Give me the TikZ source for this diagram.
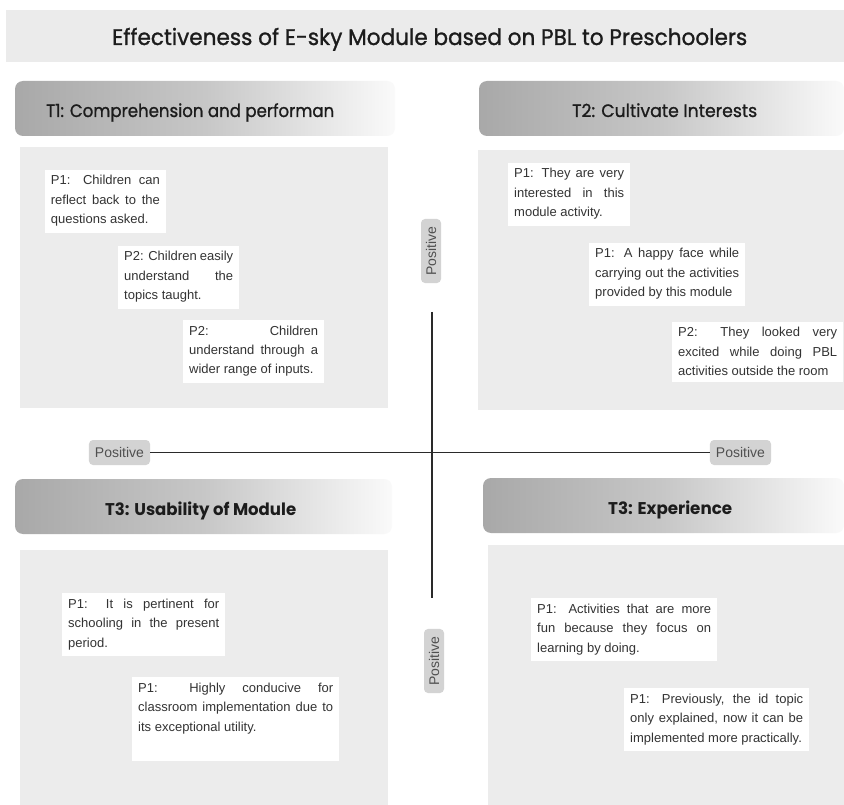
\documentclass[tikz,border=0pt]{standalone}
\usepackage{fontspec}
\usepackage{graphicx}
\setmainfont{Liberation Sans}
\newfontfamily\headfont{Poppins}
\newfontfamily\headmed[FakeBold=1.1]{Poppins}

\definecolor{panelgray}{HTML}{ECECEC}
\definecolor{bandgray}{HTML}{EBEBEB}
\definecolor{bodytext}{HTML}{333333}
\definecolor{chipgray}{HTML}{D3D3D3}
\definecolor{chiptext}{HTML}{505050}
\definecolor{inkdark}{HTML}{1C1C1C}
\definecolor{axisink}{HTML}{2A2A2A}

% header bar: darker grey on the left, fading out to the right
\pgfdeclarehorizontalshading{hdrfade}{100bp}{%
  color(0bp)=(black!34); color(25bp)=(black!34);
  color(50bp)=(black!22); color(75bp)=(black!2); color(100bp)=(black!2)}

% a block of body text: full-width justified lines, then a ragged last line
\newcommand\para[2]{\vtop{\hsize=#1\relax\fontsize{13}{19.5}\selectfont #2}}
\newcommand\fullln[1]{\hbox to\hsize{#1}}
\newcommand\lastln[1]{\hbox{#1}}

\tikzset{
  panel/.style={fill=panelgray, draw=none, inner sep=0pt},
  hdrbar/.style={shading=hdrfade, rounded corners=8pt, draw=none, inner sep=0pt},
  hdrtext/.style={anchor=base west, inner sep=0pt, text=inkdark},
  ptxt/.style={fill=white, text=bodytext, inner xsep=6pt, inner ysep=6pt, anchor=base west},
  chip/.style={fill=chipgray, text=chiptext, rounded corners=4pt,
    font=\fontsize{14}{14}\selectfont, inner xsep=6pt, inner ysep=0pt, minimum height=25pt},
  vchip/.style={chip, rotate=90, minimum height=20pt, inner xsep=7.5pt},
  axisline/.style={draw=axisink, line width=1.3pt},
}

\begin{document}
\begin{tikzpicture}[x=1pt,y=-1pt]
\useasboundingbox[fill=white] (0,0) rectangle (844,805);

% title band
\node[fill=bandgray, minimum width=838pt, minimum height=52pt, inner sep=0pt] (band) at (425,36) {};
\node[hdrtext] (title) at (112,45)
  {\headmed\fontsize{22.5}{22.5}\selectfont\resizebox{635pt}{\height}{Effectiveness of E-sky Module based on PBL to Preschoolers}};

% quadrant panels
\node[panel, minimum width=368pt, minimum height=261pt] (pan1) at (204,277.5) {};
\node[panel, minimum width=366pt, minimum height=260pt] (pan2) at (661,280) {};
\node[panel, minimum width=368pt, minimum height=255pt] (pan3) at (204,677.5) {};
\node[panel, minimum width=356pt, minimum height=260pt] (pan4) at (666,675) {};

% theme header bars
\node[hdrbar, minimum width=380pt, minimum height=55pt] (hdr1) at (205,108.5) {};
\node[hdrbar, minimum width=365pt, minimum height=55pt] (hdr2) at (661.5,108.5) {};
\node[hdrbar, minimum width=377pt, minimum height=55pt] (hdr3) at (203.5,506.5) {};
\node[hdrbar, minimum width=361pt, minimum height=55pt] (hdr4) at (663.5,505.5) {};

\node[hdrtext] (t1) at (46,117)
  {\headmed\fontsize{18}{18}\selectfont\resizebox{288pt}{\height}{T1: Comprehension and performan}};
\node[hdrtext] (t2) at (572,117)
  {\headmed\fontsize{18}{18}\selectfont\resizebox{185pt}{\height}{T2: Cultivate Interests}};
\node[hdrtext] (t3) at (105,515)
  {\headfont\bfseries\fontsize{17}{17}\selectfont\resizebox{191pt}{\height}{T3: Usability of Module}};
\node[hdrtext] (t4) at (608,514)
  {\headfont\bfseries\fontsize{17}{17}\selectfont\resizebox{124pt}{\height}{T3: Experience}};

% T1 statements
\node[ptxt] (q1a) at (44.7,185) {\para{109pt}{\fullln{P1: Children can}\fullln{reflect back to the}\lastln{questions asked.}}};
\node[ptxt] (q1b) at (118,261) {\para{109pt}{\fullln{P2: Children easily}\fullln{understand the}\lastln{topics taught.}}};
\node[ptxt] (q1c) at (183,335) {\para{129pt}{\fullln{P2: Children}\fullln{understand through a}\lastln{wider range of inputs.}}};

% T2 statements
\node[ptxt] (q2a) at (508,178) {\para{110pt}{\fullln{P1: They are very}\fullln{interested in this}\lastln{module activity.}}};
\node[ptxt] (q2b) at (589,258) {\para{144pt}{\fullln{P1: A happy face while}\fullln{carrying out the activities}\lastln{provided by this module}}};
\node[ptxt] (q2c) at (672,337) {\para{159pt}{\fullln{P2: They looked very}\fullln{excited while doing PBL}\lastln{activities outside the room}}};

% usability statements
\node[ptxt] (q3a) at (62,608) {\para{151pt}{\fullln{P1: It is pertinent for}\fullln{schooling in the present}\lastln{period.}}};
\node[ptxt] (q3b) at (132,692) {\para{195pt}{\fullln{P1: Highly conducive for}\fullln{classroom implementation due to}\lastln{its exceptional utility.}\vskip 21pt}};

% experience statements
\node[ptxt] (q4a) at (531,613) {\para{174pt}{\fullln{P1: Activities that are more}\fullln{fun because they focus on}\lastln{learning by doing.}}};
\node[ptxt] (q4b) at (624,703) {\para{173pt}{\fullln{P1: Previously, the id topic}\fullln{only explained, now it can be}\lastln{implemented more practically.}}};

% axes and their labels
\node[chip] (posL) at (119.5,452.5) {Positive};
\node[chip] (posR) at (740.5,452.5) {Positive};
\node[vchip] (posT) at (431,251) {Positive};
\node[vchip] (posB) at (434,661) {Positive};

\coordinate (vtop) at (432,312);
\coordinate (vbot) at (432,598);
\draw[axisline] (posL.east) -- (posR.west);
\draw[axisline] (vtop) -- (vbot);
\end{tikzpicture}
\end{document}
